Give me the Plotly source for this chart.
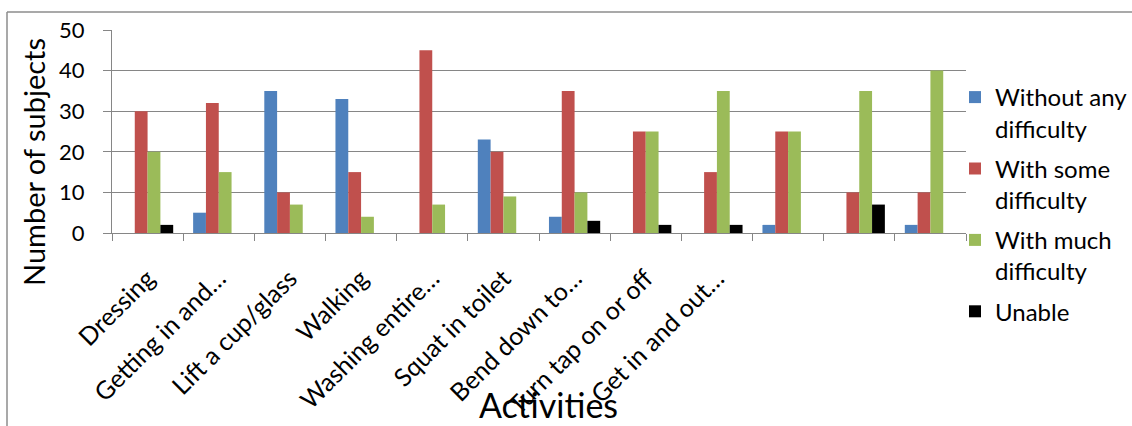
import plotly.graph_objects as go

# ---- data ----
tick_labels = ["Dressing", "Getting in and…", "Lift a cup/glass", "Walking",
               "Washing entire…", "Squat in toilet", "Bend down to…",
               "Turn tap on or off", "Get in and out…", "", "", ""]
category_keys = [f"cat{i + 1}" for i in range(len(tick_labels))]

series_names = ["Without any<br>difficulty", "With some<br>difficulty",
                "With much<br>difficulty", "Unable"]
without_any = [0, 5, 35, 33, 0, 23, 4, 0, 0, 2, 0, 2]
with_some = [30, 32, 10, 15, 45, 20, 35, 25, 15, 25, 10, 10]
with_much = [20, 15, 7, 4, 7, 9, 10, 25, 35, 25, 35, 40]
unable = [2, 0, 0, 0, 0, 0, 3, 2, 2, 0, 7, 0]

colors = ["#4F81BD", "#C0504D", "#9BBB59", "#000000"]
FONT = "Lato, Carlito, Calibri, 'Open Sans', sans-serif"

fig = go.Figure()
for i, (name, vals, col) in enumerate(zip(series_names,
                                          [without_any, with_some, with_much, unable],
                                          colors)):
    fig.add_trace(go.Bar(x=category_keys, y=vals, name=name, legendgroup=f"g{i}",
                         marker=dict(color=col, line=dict(width=0))))

# plot area geometry (px)
L, R, T, B = 112, 966, 30, 233
W, H = 1132, 426

def px_x(x):
    return (x - L) / (R - L)

def px_y(y):
    return (B - y) / (B - T)

fig.update_layout(
    width=W, height=H,
    margin=dict(l=L, r=W - R, t=T, b=H - B, autoexpand=False),
    paper_bgcolor="white", plot_bgcolor="white",
    barmode="group", bargap=0.28, bargroupgap=0,
    font=dict(family=FONT, color="black"),
    showlegend=True,
    legend=dict(x=px_x(955), y=px_y(75), xanchor="left", yanchor="top",
                font=dict(size=24, family=FONT), valign="top",
                bgcolor="rgba(0,0,0,0)", itemwidth=30, tracegroupgap=6,
                maxheight=400),
    xaxis=dict(type="category", tickmode="array", tickvals=category_keys,
               ticktext=tick_labels, tickangle=-45, tickson="boundaries",
               ticks="outside", ticklen=7, tickcolor="#868686",
               showline=True, linecolor="#868686", linewidth=1,
               showgrid=False, tickfont=dict(size=25, family=FONT),
               ticklabelstandoff=20, automargin=False),
    yaxis=dict(range=[0, 50], dtick=10, ticks="outside", ticklen=8,
               tickcolor="#868686", showline=True, linecolor="#868686",
               linewidth=1, showgrid=True, gridcolor="#868686", gridwidth=1,
               zeroline=False, tickfont=dict(size=22, family=FONT),
               ticklabelstandoff=14, automargin=False),
    annotations=[
        dict(text="Activities", x=px_x(548), y=px_y(405), xref="paper", yref="paper",
             xanchor="center", yanchor="middle",
             showarrow=False, font=dict(size=34, family=FONT)),
        dict(text="Number of subjects", x=px_x(33), y=px_y(162), xref="paper", yref="paper",
             xanchor="center", yanchor="middle",
             showarrow=False, textangle=-90, font=dict(size=29, family=FONT)),
    ],
    shapes=[
        dict(type="line", xref="paper", yref="paper", x0=px_x(7), x1=px_x(1140),
             y0=px_y(12), y1=px_y(12), line=dict(color="#8c8c8c", width=1.5)),
        dict(type="line", xref="paper", yref="paper", x0=px_x(7), x1=px_x(7),
             y0=px_y(12), y1=px_y(440), line=dict(color="#8c8c8c", width=1.5)),
    ],
)

fig.write_html("out.html")
